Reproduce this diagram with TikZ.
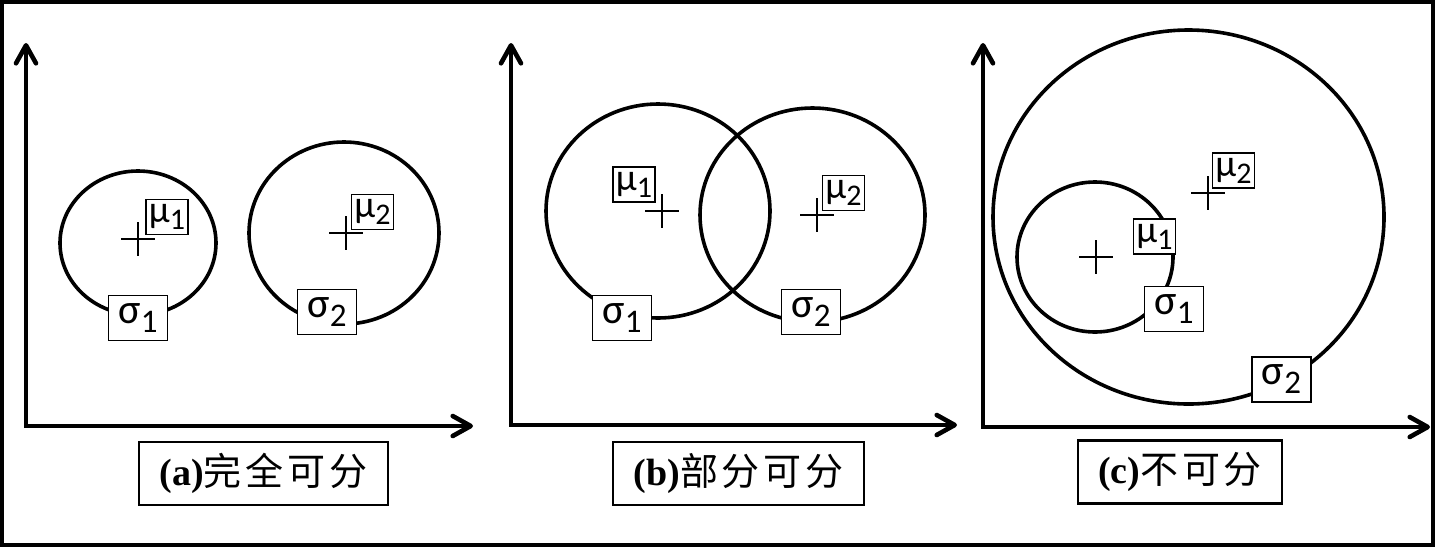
\documentclass[tikz,border=0pt]{standalone}
\usepackage{fontspec}
\setmainfont{Liberation Serif}
\newfontfamily\cjk[LetterSpace=10]{Noto Sans CJK SC}
\newfontfamily\grk{Carlito}
\usetikzlibrary{arrows.meta}

\newcommand{\sglab}[1]{{\grk\fontsize{21}{21}\selectfont σ\raisebox{-4.5pt}{\fontsize{16.5}{16.5}\selectfont #1}}}
\newcommand{\mulab}[1]{{\grk\fontsize{19}{19}\selectfont μ\raisebox{-3.5pt}{\fontsize{15}{15}\selectfont #1}}}
\newcommand{\captxt}[2]{{\fontsize{19}{19}\selectfont\textbf{(#1)}\cjk #2}}

\begin{document}
\begin{tikzpicture}[x=0.5pt, y=-0.5pt, >={Straight Barb[length=9pt, width=10pt, round]},
    axisline/.style={line width=2.3pt, <->, line join=miter},
    blob/.style={line width=1.8pt},
    crs/.style={line width=0.8pt},
    mubox/.style={draw, fill=white, line width=0.6pt, inner sep=0pt, minimum width=21pt, minimum height=17.5pt},
    sigbox/.style={draw, fill=white, line width=0.6pt, inner sep=0pt, minimum width=29.5pt, minimum height=22.5pt},
    capbox/.style={draw, line width=1.2pt, inner sep=0pt, minimum height=31.5pt}]
    \useasboundingbox (0,0) rectangle (1455,547);
    \draw[line width=1.75pt] (2,2) rectangle (1433,545);

    % (a) fully separable
    \coordinate (oa) at (26,426);
    \coordinate (ya) at (26,43);
    \coordinate (xa) at (473,426);
    \draw[axisline] (ya) -- (oa) -- (xa);
    \draw[blob] (138,243) ellipse [x radius=39pt, y radius=36pt];
    \draw[blob] (344,233) ellipse [x radius=47.5pt, y radius=45.5pt];
    \coordinate (ma1) at (138,239);
    \coordinate (ma2) at (346,233);
    \draw[crs] (ma1) ++(-17,0) -- ++(34,0) (ma1) ++(0,-17) -- ++(0,34);
    \draw[crs] (ma2) ++(-17,0) -- ++(34,0) (ma2) ++(0,-17) -- ++(0,34);
    \node[mubox] (mua1) at (167,217) {\mulab{1}};
    \node[mubox] (mua2) at (372.5,212) {\mulab{2}};
    \node[sigbox] (sga1) at (138,318) {\sglab{1}};
    \node[sigbox] (sga2) at (327,312) {\sglab{2}};
    \node[capbox, minimum width=124.5pt] (capa) at (263.5,473.5) {\captxt{a}{完全可分}};

    % (b) partly separable
    \coordinate (ob) at (511,425);
    \coordinate (yb) at (511,43);
    \coordinate (xb) at (957,425);
    \draw[axisline] (yb) -- (ob) -- (xb);
    \draw[blob] (658,211) ellipse [x radius=56pt, y radius=53.5pt];
    \draw[blob] (812.5,215) ellipse [x radius=56.25pt, y radius=53.5pt];
    \coordinate (mb1) at (662,211);
    \coordinate (mb2) at (817,215);
    \draw[crs] (mb1) ++(-17,0) -- ++(34,0) (mb1) ++(0,-17) -- ++(0,34);
    \draw[crs] (mb2) ++(-17,0) -- ++(34,0) (mb2) ++(0,-17) -- ++(0,34);
    \node[mubox] (mub1) at (634,184.5) {\mulab{1}};
    \node[mubox] (mub2) at (843.5,193) {\mulab{2}};
    \node[sigbox] (sgb1) at (622,318) {\sglab{1}};
    \node[sigbox] (sgb2) at (811,312) {\sglab{2}};
    \node[capbox, minimum width=125.5pt] (capb) at (738.5,473.5) {\captxt{b}{部分可分}};

    % (c) not separable
    \coordinate (oc) at (983,427);
    \coordinate (yc) at (983,43);
    \coordinate (xc) at (1430,427);
    \draw[axisline] (yc) -- (oc) -- (xc);
    \draw[blob] (1188.5,217) ellipse [x radius=97.75pt, y radius=93.5pt];
    \draw[blob] (1095,257) ellipse [x radius=39pt, y radius=37.5pt];
    \coordinate (mc1) at (1096,257);
    \coordinate (mc2) at (1208,193);
    \draw[crs] (mc1) ++(-17,0) -- ++(34,0) (mc1) ++(0,-17) -- ++(0,34);
    \draw[crs] (mc2) ++(-17,0) -- ++(34,0) (mc2) ++(0,-17) -- ++(0,34);
    \node[mubox] (muc1) at (1154.5,236.5) {\mulab{1}};
    \node[mubox] (muc2) at (1233.5,170.5) {\mulab{2}};
    \node[sigbox] (sgc1) at (1174,309) {\sglab{1}};
    \node[sigbox] (sgc2) at (1281.5,379.5) {\sglab{2}};
    \node[capbox, minimum width=102pt] (capc) at (1180,472) {\captxt{c}{不可分}};
\end{tikzpicture}
\end{document}
